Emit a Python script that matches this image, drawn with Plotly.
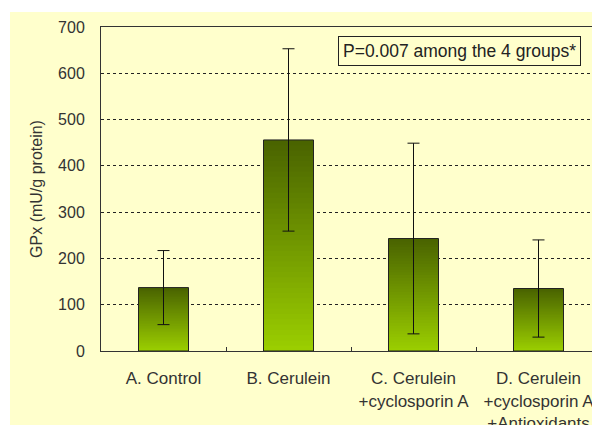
import numpy as np
import plotly.graph_objects as go

categories = ["A. Control", "B. Cerulein", "C. Cerulein<br>+cyclosporin A",
              "D. Cerulein<br>+cyclosporin A<br>+Antioxidants"]
means = [137, 456, 243, 135]
sds = [80, 197, 206, 105]
y_ticks = [0, 100, 200, 300, 400, 500, 600, 700]

W, H = 592, 425
L, R = 101, 0
T = 27
B = H - 351
FONT = "Arial, Liberation Sans, sans-serif"
TXT = "#333333"

top_rgb = np.array([74, 100, 0])
bot_rgb = np.array([155, 206, 0])

fig = go.Figure()
N = 40
v = np.array(means, dtype=float)
for i in range(N):
    frac = i / (N - 1)
    c = bot_rgb + (top_rgb - bot_rgb) * frac
    base = v * i / N
    h = np.minimum(v / N * 1.6, v - base)
    fig.add_trace(go.Bar(
        x=categories, y=h, base=base, width=0.4,
        marker=dict(color="rgb(%d,%d,%d)" % tuple(c.astype(int)), line=dict(width=0)),
        hoverinfo="skip", showlegend=False))

fig.add_trace(go.Bar(
    x=categories, y=means, width=0.4,
    marker=dict(color="rgba(0,0,0,0)", line=dict(color="#222", width=1)),
    error_y=dict(type="data", array=sds, color="#111", thickness=1, width=6),
    showlegend=False))

plot_w = W - L - R
cat_px = 125
x_hi = -0.5 + plot_w / cat_px
plot_h = H - T - B

fig.add_shape(type="rect", xref="paper", yref="paper", layer="below",
              x0=(10 - L) / plot_w, x1=(W - L + 5) / plot_w,
              y0=-(B + 5) / plot_h, y1=1 + (T - 12) / plot_h,
              fillcolor="#ffffcc", line=dict(width=0))

fig.add_annotation(text="P=0.007 among the 4 groups*", xref="paper", yref="paper",
                   x=(459.5 - L) / plot_w, y=(H - B - 51) / plot_h,
                   xanchor="center", yanchor="middle",
                   showarrow=False, font=dict(family=FONT, size=17.5, color="#222"),
                   bordercolor="#222", borderwidth=1, borderpad=4, bgcolor="#ffffcc")

fig.update_layout(
    width=W, height=H, margin=dict(l=L, r=R, t=T, b=B, autoexpand=False),
    paper_bgcolor="white", plot_bgcolor="#ffffcc",
    barmode="overlay", bargap=0.6,
    font=dict(family=FONT, size=16, color=TXT),
    xaxis=dict(type="category", range=[-0.5, x_hi], tickson="boundaries",
               ticks="inside", ticklen=4, tickcolor="#333", showline=True,
               linecolor="#333", linewidth=1, mirror=True, showgrid=False,
               automargin=False,
               tickfont=dict(size=17, color=TXT), ticklabelstandoff=12),
    yaxis=dict(range=[0, 700], tickvals=y_ticks, showline=True, linecolor="#333",
               linewidth=1, showgrid=True, gridcolor="#222", griddash="3px,3px",
               gridwidth=1, zeroline=False, ticks="", automargin=False,
               tickfont=dict(size=16, color=TXT), ticklabelstandoff=12,
               title=dict(text="GPx (mU/g protein)", font=dict(size=16, color=TXT),
                          standoff=11)),
)

fig.write_html("out.html", config={"displayModeBar": False},
               post_script="document.body.style.margin='0';document.body.style.overflow='hidden';")
